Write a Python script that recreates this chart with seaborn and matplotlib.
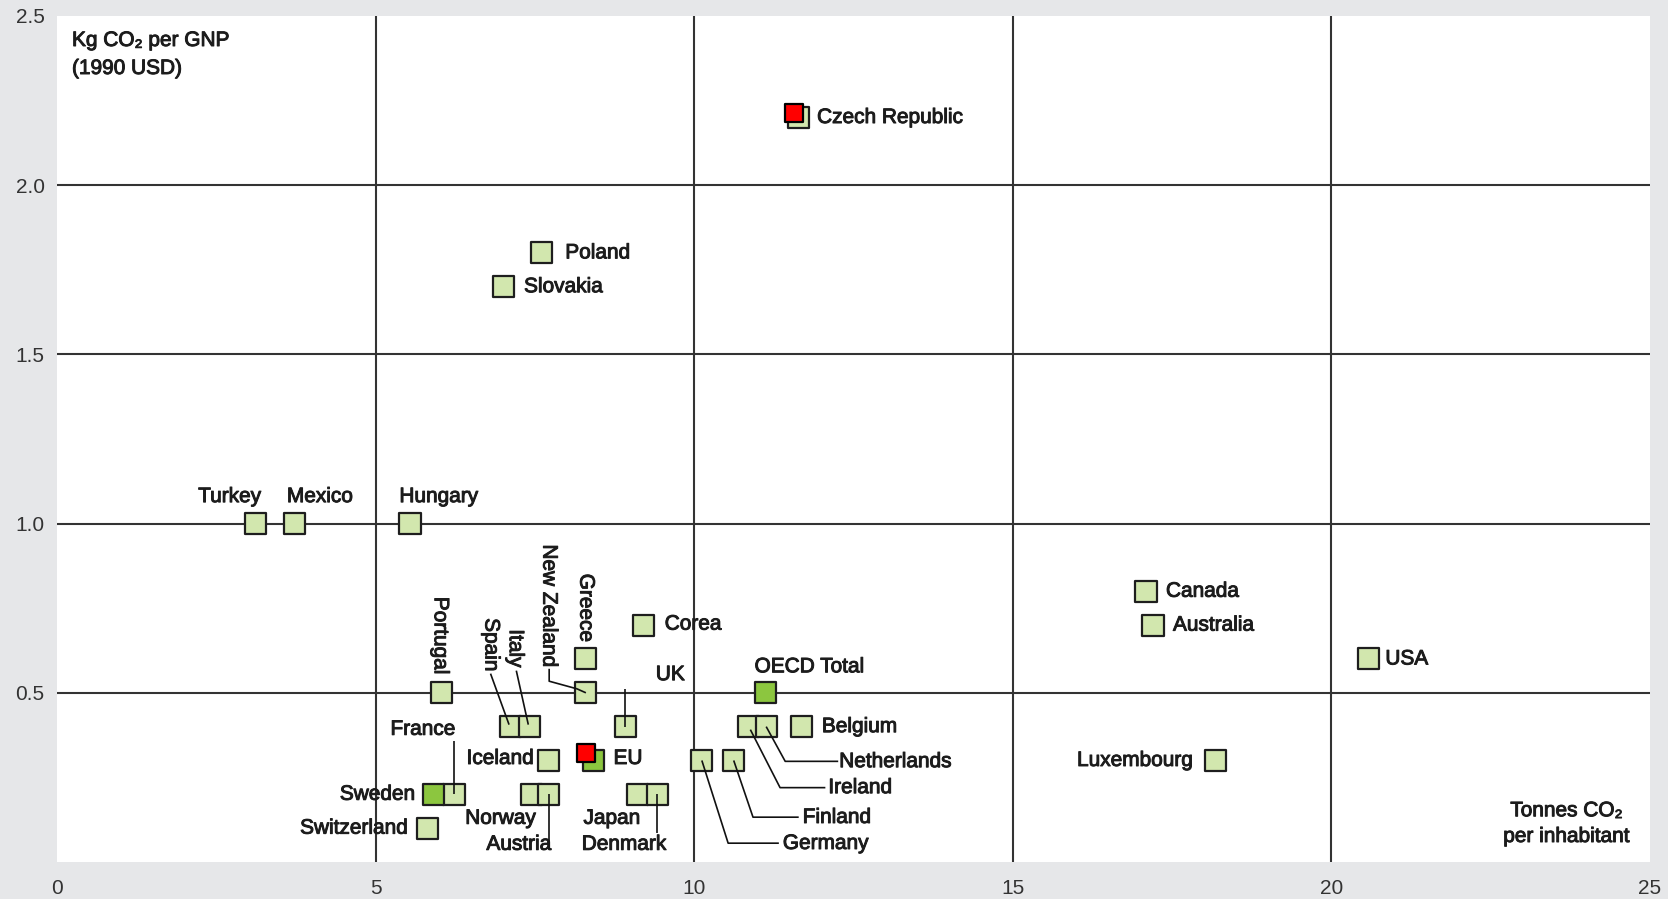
import matplotlib
matplotlib.use("Agg")
import matplotlib.pyplot as plt
import matplotlib.patheffects as pe
import seaborn as sns
import pandas as pd
import numpy as np

# ---------------- data ----------------
countries = ["Czech Republic", "Poland", "Slovakia", "Turkey", "Mexico", "Hungary",
             "Portugal", "Spain", "Italy", "New Zealand", "Greece", "Corea", "UK",
             "OECD Total", "Belgium", "Ireland", "Netherlands", "Germany", "Finland",
             "Iceland", "EU", "France", "Sweden", "Switzerland", "Norway", "Austria",
             "Japan", "Denmark", "Canada", "Australia", "USA", "Luxembourg"]
tonnes_per_inhabitant = [11.63, 7.60, 7.00, 3.12, 3.72, 5.54,
                         6.03, 7.11, 7.42, 8.30, 8.30, 9.20, 8.92,
                         11.12, 11.69, 10.85, 11.13, 10.12, 10.62,
                         7.72, 8.42, 6.23, 5.91, 5.81, 7.45, 7.72,
                         9.11, 9.42, 17.09, 17.20, 20.58, 18.18]
kg_per_gnp = [2.20, 1.80, 1.70, 1.00, 1.00, 1.00,
              0.50, 0.40, 0.40, 0.50, 0.60, 0.70, 0.40,
              0.50, 0.40, 0.40, 0.40, 0.30, 0.30,
              0.30, 0.30, 0.20, 0.20, 0.10, 0.20, 0.20,
              0.20, 0.20, 0.80, 0.70, 0.60, 0.30]
group = ["country"] * len(countries)
for name in ["OECD Total", "EU", "Sweden"]:
    group[countries.index(name)] = "highlight"

red_names = ["Czech Republic", "EU"]
red_x = [11.57, 8.30]
red_y = [2.214, 0.321]

x_ticks = [0, 5, 10, 15, 20, 25]
x_tick_labels = ["0", "5", "10", "15", "20", "25"]
y_ticks = [0.5, 1.0, 1.5, 2.0, 2.5]
y_tick_labels = ["0.5", "1.0", "1.5", "2.0", "2.5"]

# ---------------- label layout (pixel offsets from point; y down) ----------------
layout = {
    "Czech Republic": (19, 0, "left", "center", 0, None),
    "Poland": (24, 0, "left", "center", 0, None),
    "Slovakia": (21, 0, "left", "center", 0, None),
    "Turkey": (-26, -27, "center", "center", 0, None),
    "Mexico": (26, -27, "center", "center", 0, None),
    "Hungary": (29, -27, "center", "center", 0, None),
    "Portugal": (-1, -18, "center", "bottom", 270, None),
    "Spain": (-19, -55, "center", "bottom", 270, [(-19.5, -53), (-1, -2)]),
    "Italy": (-14.5, -59, "center", "bottom", 270, [(-13.5, -56), (-1.5, -2)]),
    "New Zealand": (-37, -25, "center", "bottom", 270,
                    [(-36.7, -24), (-36.7, -11.6), (-9, -4), (0, 0)]),
    "Greece": (0, -17, "center", "bottom", 270, None),
    "Corea": (21.5, -1, "left", "center", 0, None),
    "UK": (45, -52, "center", "center", 0, [(0, 0), (0, -38)]),
    "OECD Total": (-11, -26, "left", "center", 0, None),
    "Belgium": (20, 0, "left", "center", 0, None),
    "Netherlands": (73, 35, "left", "center", 0, [(0, 0), (19, 34.7), (72, 34.7)]),
    "Ireland": (80, 61, "left", "center", 0, [(2, 3), (31.7, 61), (77, 61)]),
    "Finland": (69, 57, "left", "center", 0, [(0, 0), (19.3, 56.7), (65, 56.7)]),
    "Germany": (81, 83, "left", "center", 0, [(0, 0), (26.3, 82.7), (77, 82.7)]),
    "Iceland": (-15, -2, "right", "center", 0, None),
    "EU": (20, -2, "left", "center", 0, None),
    "France": (-31, -65, "center", "center", 0, [(0, 0), (0, -53)]),
    "Sweden": (-18, 0, "right", "center", 0, None),
    "Switzerland": (-19, 0, "right", "center", 0, None),
    "Norway": (-31, 24, "center", "center", 0, None),
    "Austria": (-30, 50, "center", "center", 0, [(0, 0), (0, 54)]),
    "Japan": (-25.5, 24, "center", "center", 0, None),
    "Denmark": (-33, 50, "center", "center", 0, [(0, 0), (0, 39)]),
    "Canada": (20, 0, "left", "center", 0, None),
    "Australia": (20, 0, "left", "center", 0, None),
    "USA": (17, 0, "left", "center", 0, None),
    "Luxembourg": (-22, 0, "right", "center", 0, None),
}

# ---------------- style ----------------
sns.set_theme(style="white")
FONT = ["Liberation Sans", "DejaVu Sans"]
plt.rcParams["font.family"] = FONT
BG = "#e6e7e9"
TXT = "#1c1c1c"
GRID = "#333333"
LIGHT = "#d2e7ae"
DARK = "#8cc63f"
EDGE = "#1e1e1e"
HEAVY = [pe.withStroke(linewidth=0.7, foreground=TXT)]

W, H, DPI = 1668, 899, 100
fig = plt.figure(figsize=(W / DPI, H / DPI), dpi=DPI, facecolor=BG)
ax = fig.add_axes([57 / W, (H - 862) / H, (1650 - 57) / W, (862 - 16) / H])
ax.set_facecolor("white")
ax.set_xlim(0, 25)
ax.set_ylim(0, 2.5)
for s in ax.spines.values():
    s.set_visible(False)

# interior gridlines
for xv in x_ticks[1:-1]:
    ax.axvline(xv, color=GRID, lw=1.5, zorder=1)
for yv in y_ticks[:-1]:
    ax.axhline(yv, color=GRID, lw=1.5, zorder=1)

df = pd.DataFrame({"country": countries, "x": tonnes_per_inhabitant,
                   "y": kg_per_gnp, "group": group})
sns.scatterplot(data=df, x="x", y="y", hue="group",
                palette={"country": LIGHT, "highlight": DARK},
                marker="s", s=230, edgecolor=EDGE, linewidth=1.6,
                legend=False, ax=ax, zorder=3)
df_red = pd.DataFrame({"country": red_names, "x": red_x, "y": red_y})
sns.scatterplot(data=df_red, x="x", y="y", color="#ff0000", marker="s", s=150,
                edgecolor="#000000", linewidth=1.6, legend=False, ax=ax, zorder=5)

ax.set_xticks(x_ticks)
ax.set_xticklabels(x_tick_labels)
ax.set_yticks(y_ticks)
ax.set_yticklabels(y_tick_labels)
ax.tick_params(axis="both", length=0, labelsize=15, labelcolor="#333333")
ax.tick_params(axis="x", pad=12)
ax.tick_params(axis="y", pad=9)
ax.set_xlabel("")
ax.set_ylabel("")

# labels and leader lines
PX = 72 / DPI
fig.canvas.draw()
inv = ax.transData.inverted()
for name, xv, yv in zip(countries, tonnes_per_inhabitant, kg_per_gnp):
    dx, dy, ha, va, rot, leader = layout[name]
    ax.annotate(name, xy=(xv, yv), xytext=(dx * PX, -dy * PX),
                textcoords="offset points", ha=ha, va=va, rotation=rot,
                fontsize=15, color=TXT, zorder=6, path_effects=HEAVY)
    if leader:
        p = ax.transData.transform((xv, yv))
        pts = np.array([[p[0] + ox, p[1] - oy] for ox, oy in leader])
        d = inv.transform(pts)
        ax.plot(d[:, 0], d[:, 1], color="#111111", lw=1.2, zorder=4,
                solid_capstyle="butt")

ax.annotate("Kg CO\u2082 per GNP\n(1990 USD)", xy=(0, 1), xycoords="axes fraction",
            xytext=(15 * PX, -15 * PX), textcoords="offset points",
            ha="left", va="top", fontsize=15, color=TXT, linespacing=1.6,
            path_effects=HEAVY)
ax.annotate("Tonnes CO\u2082\nper inhabitant", xy=(1, 0), xycoords="axes fraction",
            xytext=(-20 * PX, 16 * PX), textcoords="offset points",
            ha="right", va="bottom", fontsize=15, color=TXT, linespacing=1.45,
            multialignment="center", path_effects=HEAVY)

fig.savefig("out.png", dpi=DPI, facecolor=BG)
